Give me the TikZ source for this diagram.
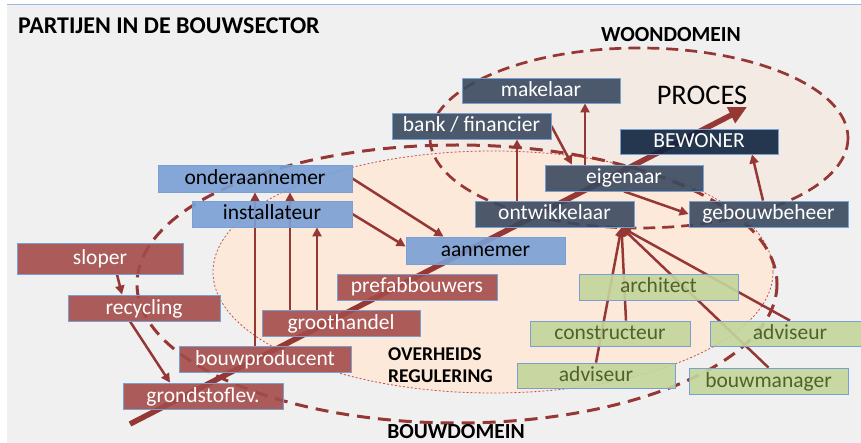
\documentclass[tikz,border=0pt]{standalone}
\usepackage{fontspec}
\setmainfont{Carlito}
\usetikzlibrary{arrows.meta,calc}

\definecolor{bgray}{HTML}{F0F0F0}
\definecolor{topline}{HTML}{9DB9E0}
\definecolor{woonfill}{RGB}{243,234,227}
\definecolor{peach}{HTML}{FDE9D9}
\definecolor{darkred}{HTML}{953735}
\definecolor{dotred}{HTML}{C0504D}
\definecolor{slate}{RGB}{58,73,94}
\definecolor{navy}{HTML}{0F233F}
\definecolor{bluebox}{HTML}{7AA0D5}
\definecolor{redbox}{HTML}{A44C4A}
\definecolor{greenbox}{HTML}{C3D69B}
\definecolor{greentext}{HTML}{4F6228}
\definecolor{boxline}{RGB}{120,160,210}

\pgfdeclarelayer{back}
\pgfdeclarelayer{links}
\pgfsetlayers{back,links,main}

\tikzset{
  box/.style={rectangle, inner sep=0pt, minimum height=26pt, text height=15pt, text depth=3pt,
    draw=boxline, line width=0.8pt, fill opacity=0.9, text opacity=1,
    font=\fontsize{21.5}{24}\selectfont},
  slatebox/.style={box, fill=slate, text=white},
  navybox/.style={box, fill=navy, text=white},
  bluebx/.style={box, fill=bluebox, text=black},
  redbx/.style={box, fill=redbox, text=white},
  greenbx/.style={box, fill=greenbox, text=greentext},
  arr/.style={draw=darkred, line width=2.5pt, -{Triangle[length=9pt,width=9pt]}},
  bigarr/.style={draw=darkred, line width=5.5pt, -{Triangle[length=18pt,width=17pt]}},
  domainline/.style={draw=darkred, line width=3pt, dash pattern=on 13pt off 8pt},
  heading/.style={inner sep=0pt, font=\bfseries\fontsize{21.5}{24}\selectfont},
}

\begin{document}
\begin{tikzpicture}[x=1pt,y=-1pt]
\useasboundingbox (0,0) rectangle (861,443);

% page and domains
\begin{pgfonlayer}{back}
\fill[white] (0,0) rectangle (861,443);
\fill[bgray] (7,5) rectangle (861,443);
\draw[topline, line width=1pt] (7,5) -- (861,5);
\fill[woonfill] (639,138) ellipse [x radius=209, y radius=90];
\filldraw[fill=peach, draw=dotred, line width=0.8pt, dash pattern=on 2pt off 2pt]
  (493,272) ellipse [x radius=280, y radius=121];
\draw[domainline, line width=2.7pt, dash pattern=on 12pt off 7pt] (639,138) ellipse [x radius=209, y radius=90];
\draw[domainline] (457,284) ellipse [x radius=320, y radius=139];
\end{pgfonlayer}

% headings
\node[inner sep=0pt, anchor=west, font=\bfseries\fontsize{24}{28}\selectfont] (title) at (18,25.5) {PARTIJEN IN DE BOUWSECTOR};
\node[heading] (woon) at (671,35) {WOONDOMEIN};
\node[heading] (bouw) at (456,432) {BOUWDOMEIN};
\node[inner sep=0pt, font=\fontsize{28.4}{32}\selectfont] (proces) at (702,95.5) {PROCES};
\node[heading, anchor=west, font=\bfseries\fontsize{19.5}{22}\selectfont] (overheid) at (388,354) {OVERHEIDS};
\node[heading, anchor=west, font=\bfseries\fontsize{19.5}{22}\selectfont] (regulering) at (388,376.5) {REGULERING};

% parties
\path
  (541,90.5)   node[slatebox, minimum width=158pt, minimum height=25pt] (makelaar) {makelaar}
  (471.5,126)  node[slatebox, minimum width=159pt] (bank) {bank / financier}
  (699,141.5)  node[navybox, minimum width=158pt, minimum height=25pt] (bewoner) {BEWONER}
  (624,178)    node[slatebox, minimum width=158pt] (eigenaar) {eigenaar}
  (554.5,214)  node[slatebox, minimum width=159pt] (ontwikkelaar) {ontwikkelaar}
  (768.5,214)  node[slatebox, minimum width=159pt] (gebouwbeheer) {gebouwbeheer}
  (255,178.5)  node[bluebx, minimum width=194pt, minimum height=27pt] (onderaannemer) {onderaannemer}
  (272,214)    node[bluebx, minimum width=160pt] (installateur) {installateur}
  (485.5,250.5) node[bluebx, minimum width=159pt, minimum height=27pt] (aannemer) {aannemer}
  (417,287)    node[redbx, minimum width=160pt] (prefab) {prefabbouwers}
  (100,258.5)  node[redbx, minimum width=166pt, minimum height=31pt] (sloper) {sloper}
  (144,308)    node[redbx, minimum width=152pt] (recycling) {recycling}
  (341,323)    node[redbx, minimum width=158pt] (groothandel) {groothandel}
  (265,359)    node[redbx, minimum width=172pt] (bouwproducent) {bouwproducent}
  (203,396)    node[redbx, minimum width=160pt] (grondstof) {grondstoflev.}
  (658.5,287)  node[greenbx, minimum width=159pt] (architect) {architect}
  (610,333.5)  node[greenbx, minimum width=160pt, minimum height=25pt] (constructeur) {constructeur}
  (790,333.5)  node[greenbx, minimum width=160pt, minimum height=25pt] (adviseurR) {adviseur}
  (596,375.5)  node[greenbx, minimum width=158pt, minimum height=25pt] (adviseurL) {adviseur}
  (768.5,381)  node[greenbx, minimum width=159pt] (bouwmanager) {bouwmanager};

% connectors, beneath the translucent boxes
\begin{pgfonlayer}{links}
\coordinate (pstart) at (130,424);
\coordinate (pend) at (747,107);
\draw[bigarr] (pstart) -- (pend);

\draw[arr] ([xshift=17pt]sloper.south) -- ([xshift=-22pt]recycling.north);
\draw[arr] ([xshift=-14pt]recycling.south) -- ([xshift=-33pt]grondstof.north);
\draw[arr] (bouwproducent.north -| onderaannemer.south) -- (onderaannemer.south);
\draw[arr] ([xshift=-51pt]groothandel.north) coordinate (g1) -- (g1 |- onderaannemer.south);
\draw[arr] ([xshift=-24pt]groothandel.north) coordinate (g2) -- (g2 |- installateur.south);
\draw[arr] (onderaannemer.east) -- ([xshift=-42pt]aannemer.north);
\draw[arr] (installateur.east) -- ([yshift=4pt]aannemer.west);

\draw[arr] ([xshift=-37.5pt]ontwikkelaar.north) coordinate (o1) -- (o1 |- bank.south);
\draw[arr] (bank.east) -- ([xshift=-52pt]eigenaar.north);
\draw[arr] ([xshift=-39pt]eigenaar.north) coordinate (e1) -- (e1 |- makelaar.south);
\draw[arr] (eigenaar.south) -- (gebouwbeheer.west);
\draw[arr] ([xshift=-5.5pt]gebouwbeheer.north) -- ([xshift=53pt]bewoner.south);

\coordinate (ohub) at ([xshift=67pt]ontwikkelaar.south);
\draw[arr] (adviseurL.north) -- (ohub);
\draw[arr] ([xshift=16pt]constructeur.north) -- (ohub);
\draw[arr] (adviseurR.north) -- (ohub);
\draw[arr] (bouwmanager.north) -- (ohub);
\end{pgfonlayer}
\end{tikzpicture}
\end{document}
